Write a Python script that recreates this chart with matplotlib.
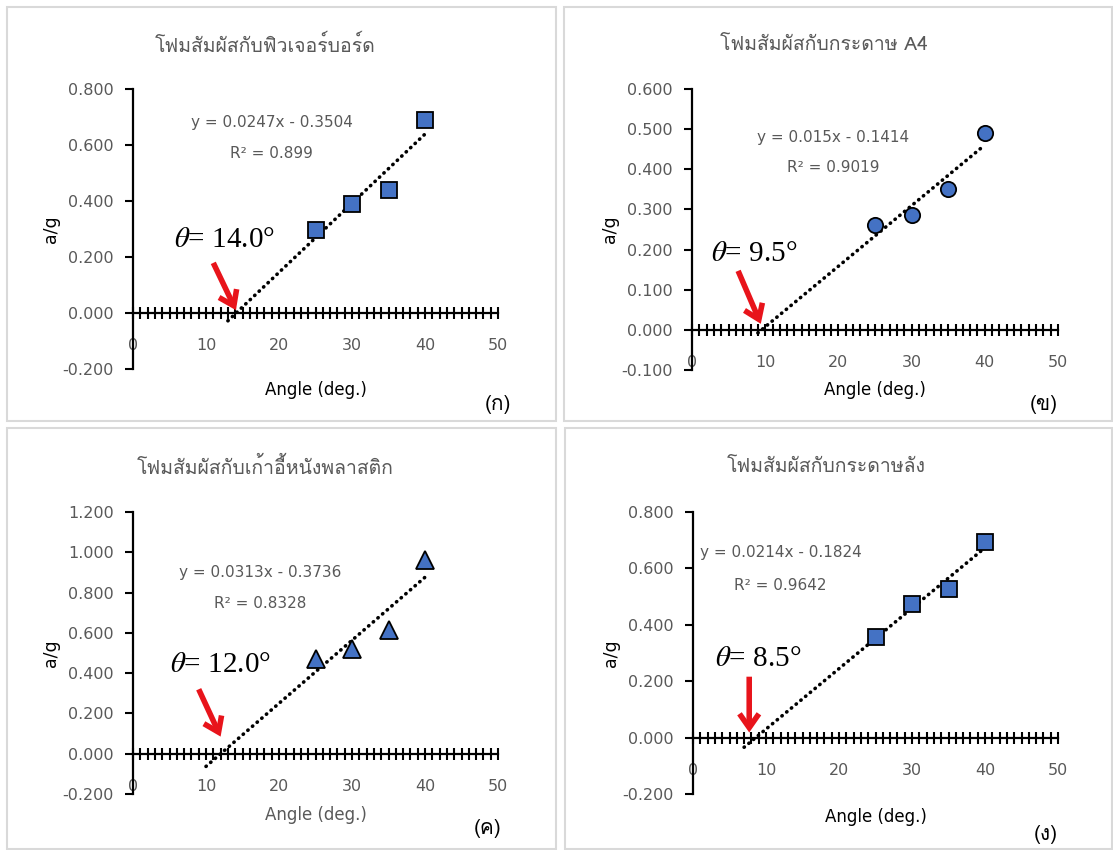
import numpy as np
import matplotlib
matplotlib.use("Agg")
import matplotlib.pyplot as plt
from matplotlib import font_manager, ft2font
from matplotlib.ticker import MultipleLocator, FormatStrFormatter
from matplotlib.patches import Rectangle

# data
angles = [25, 30, 35, 40]
foam_futureboard = [0.295, 0.39, 0.44, 0.69]
foam_a4 = [0.26, 0.287, 0.352, 0.49]
foam_chair = [0.47, 0.52, 0.615, 0.96]
foam_carton = [0.355, 0.473, 0.528, 0.694]

titles = ["โฟมสัมผัสกับฟิวเจอร์บอร์ด", "โฟมสัมผัสกับกระดาษ A4",
          "โฟมสัมผัสกับเก้าอี้หนังพลาสติก", "โฟมสัมผัสกับกระดาษลัง"]
equations = ["y = 0.0247x - 0.3504", "y = 0.015x - 0.1414",
             "y = 0.0313x - 0.3736", "y = 0.0214x - 0.1824"]
r2_labels = ["R² = 0.899", "R² = 0.9019", "R² = 0.8328", "R² = 0.9642"]
theta_labels = ["14.0", "9.5", "12.0", "8.5"]
panel_tags = ["(ก)", "(ข)", "(ค)", "(ง)"]
trend_start = [13, 9, 10, 7]
y_ranges = [(-0.2, 0.8, 0.2), (-0.1, 0.6, 0.1), (-0.2, 1.2, 0.2), (-0.2, 0.8, 0.2)]


def find_thai_font():
    for f in font_manager.fontManager.ttflist:
        try:
            if 0x0E42 in ft2font.FT2Font(f.fname).get_charmap():
                return f.name
        except Exception:
            pass
    return "DejaVu Sans"


thai = find_thai_font()
plt.rcParams['font.family'] = ['DejaVu Sans', thai]
plt.rcParams['mathtext.fontset'] = 'stix'

W, H = 1113, 850
fig = plt.figure(figsize=(W / 100, H / 100), dpi=100)


def fx(px):
    return px / W


def fy(py):
    return 1 - py / H


# panel frames
for (x0, y0, x1, y1) in [(7, 7, 556, 421), (564, 7, 1112, 421),
                         (7, 428, 556, 849), (565, 428, 1112, 849)]:
    fig.add_artist(Rectangle((fx(x0), fy(y1)), fx(x1) - fx(x0), fy(y0) - fy(y1),
                             transform=fig.transFigure, fill=False,
                             edgecolor='#d9d9d9', lw=1.5))

# axes boxes in pixels: left, right, top, bottom
boxes = [(133, 498, 89, 369), (692, 1058, 89, 370),
         (133, 498, 512, 794), (693, 1058, 512, 794)]
series = [foam_futureboard, foam_a4, foam_chair, foam_carton]
markers = [('s', 11), ('o', 11), ('^', 13), ('s', 11)]
eq_pos = [(19.0, 0.68, 0.568), (19.3, 0.478, 0.404), (17.4, 0.90, 0.746), (12.0, 0.656, 0.54)]
theta_pos = [(5.6, 0.26), (2.6, 0.19), (5.0, 0.44), (3.0, 0.28)]
arrows = [((11.0, 0.179), (14.1, 0.01)), ((6.3, 0.147), (9.4, 0.015)),
          ((9.0, 0.32), (12.0, 0.085)), ((7.7, 0.216), (7.7, 0.018))]
title_pos = [(265, 45), (824, 45), (265, 467), (826, 467)]
tag_pos = [(498, 405), (1044, 405), (488, 828), (1046, 834)]
xlabel_y = [-0.075, -0.071, -0.075, -0.08]
xlabel_col = ['black', 'black', '#595959', 'black']
gray = '#595959'

for i in range(4):
    l, r, t, b = boxes[i]
    ax = fig.add_axes([fx(l), fy(b), fx(r) - fx(l), fy(t) - fy(b)])
    ymin, ymax, step = y_ranges[i]
    ax.set_xlim(0, 50)
    ax.set_ylim(ymin, ymax)
    ax.patch.set_alpha(0)
    for s in ['top', 'right']:
        ax.spines[s].set_visible(False)
    ax.spines['left'].set_position(('data', 0))
    ax.spines['bottom'].set_position(('data', 0))
    ax.spines['left'].set_linewidth(1.6)
    ax.spines['bottom'].set_linewidth(1.6)
    ax.xaxis.set_major_locator(MultipleLocator(10))
    ax.xaxis.set_minor_locator(MultipleLocator(1))
    ax.yaxis.set_major_locator(MultipleLocator(step))
    ax.yaxis.set_major_formatter(FormatStrFormatter('%.3f'))
    ax.tick_params(axis='x', which='both', direction='inout', width=1.5,
                   length=8, pad=14, labelsize=11.5, labelcolor=gray)
    ax.tick_params(axis='y', direction='out', width=1.5, length=6, pad=8,
                   labelsize=11.5, labelcolor=gray)

    y = series[i]
    xs = np.array([trend_start[i], angles[-1]])
    coef = np.polyfit(angles, y, 1)
    ax.plot(xs, np.polyval(coef, xs), color='black', lw=2.6,
            linestyle=(0, (0.1, 1.6)), dash_capstyle='round', zorder=2)
    m, ms = markers[i]
    ax.plot(angles, y, linestyle='none', marker=m, markersize=ms,
            markerfacecolor='#4472C4', markeredgecolor='black', markeredgewidth=1.3,
            zorder=3, clip_on=False)

    ex, ey, ry = eq_pos[i]
    ax.text(ex, ey, equations[i], ha='center', va='center', fontsize=11, color=gray)
    ax.text(ex, ry, r2_labels[i], ha='center', va='center', fontsize=11, color=gray)

    tx, ty = theta_pos[i]
    ax.text(tx, ty, r"$\theta$= " + theta_labels[i] + "°", ha='left', va='center',
            fontsize=21, family='Liberation Serif')
    (ax0, ay0), (ax1, ay1) = arrows[i]
    ax.annotate("", xy=(ax1, ay1), xytext=(ax0, ay0),
                arrowprops=dict(arrowstyle='->,head_length=1.0,head_width=0.7',
                                color='#e8141b', lw=4, shrinkA=0, shrinkB=0,
                                joinstyle='miter', capstyle='butt'))

    ax.text(0.5, xlabel_y[i], "Angle (deg.)", transform=ax.transAxes, ha='center',
            va='center', fontsize=12, color=xlabel_col[i])
    ax.text(-0.225, 0.5, "a/g", transform=ax.transAxes, rotation=90, ha='center',
            va='center', fontsize=12.5, color='black')

    px, py = title_pos[i]
    fig.text(fx(px), fy(py), titles[i], ha='center', va='center', fontsize=14,
             color=gray, family=[thai, 'DejaVu Sans'])
    px, py = tag_pos[i]
    fig.text(fx(px), fy(py), panel_tags[i], ha='center', va='center', fontsize=15,
             color='black', family=[thai, 'DejaVu Sans'])

fig.savefig("out.png", dpi=100)
